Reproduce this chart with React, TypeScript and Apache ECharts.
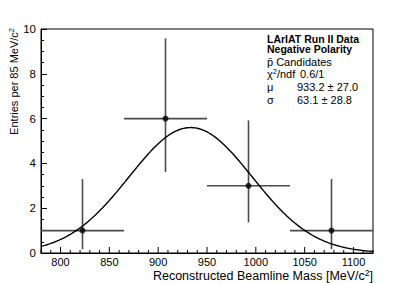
import React, { useEffect, useRef } from "react";
import * as echarts from "echarts";

// ---- Data ----
const BIN_CENTERS = [822.5, 907.5, 992.5, 1077.5];
const BIN_HALF_WIDTH = 42.5;
const COUNTS = [1, 6, 3, 1];
const ERR_LOW = [0.83, 2.38, 1.63, 0.83];
const ERR_HIGH = [2.3, 3.58, 2.92, 2.3];

const X_TICK_LABELS = [800, 850, 900, 950, 1000, 1050, 1100];
const X_MIN = 780;
const X_MAX = 1120;
const X_MINOR_STEP = 10;
const Y_MIN = 0;
const Y_MAX = 10;

// Gaussian fit parameters (from the stats box)
const FIT_MU = 933.2;
const FIT_SIGMA = 63.1;
const FIT_AMP = 5.6;

const FONT = "'Liberation Sans', Arial, Helvetica, sans-serif";

export default function App() {
  const ref = useRef<HTMLDivElement>(null);

  useEffect(() => {
    if (!ref.current) return;
    const chart = echarts.init(ref.current, null, { renderer: "svg" });

    const fitCurve: number[][] = [];
    for (let x = X_MIN; x <= X_MAX; x += 2) {
      fitCurve.push([x, FIT_AMP * Math.exp(-((x - FIT_MU) ** 2) / (2 * FIT_SIGMA ** 2))]);
    }

    const xTickValues: number[][] = [];
    for (let v = X_MIN; v <= X_MAX; v += X_MINOR_STEP) {
      xTickValues.push([v, X_TICK_LABELS.includes(v) ? 1 : 0]);
    }

    const errData = BIN_CENTERS.map((c, i) => [
      c,
      COUNTS[i],
      COUNTS[i] - ERR_LOW[i],
      COUNTS[i] + ERR_HIGH[i],
      c - BIN_HALF_WIDTH,
      c + BIN_HALF_WIDTH,
    ]);

    const barStyle = { stroke: "#4a4a4a", lineWidth: 1.6 };
    const black = { color: "#000", width: 1 };

    chart.setOption({
      animation: false,
      backgroundColor: "#fff",
      grid: {
        left: 41,
        right: 42,
        top: 29,
        bottom: 30,
        show: true,
        borderColor: "#000",
        borderWidth: 1,
        containLabel: false,
      },
      xAxis: {
        type: "value",
        min: X_MIN,
        max: X_MAX,
        position: "bottom",
        axisLine: { show: true, lineStyle: black },
        axisTick: { show: false },
        axisLabel: {
          show: true,
          customValues: X_TICK_LABELS,
          formatter: (v: number) => String(v),
          color: "#000",
          fontSize: 11,
          fontFamily: FONT,
          margin: 3,
        },
        splitLine: { show: false },
      },
      yAxis: [
        {
          type: "value",
          min: Y_MIN,
          max: Y_MAX,
          interval: 2,
          axisLine: { show: true, lineStyle: black },
          axisTick: { show: true, inside: true, length: 6, lineStyle: black },
          axisLabel: { color: "#000", fontSize: 11.5, fontFamily: FONT, margin: 5 },
          splitLine: { show: false },
        },
        {
          type: "value",
          min: Y_MIN,
          max: Y_MAX,
          interval: 0.5,
          position: "left",
          offset: 0,
          axisLine: { show: true, onZero: false, lineStyle: black },
          axisTick: { show: true, inside: true, length: 3, lineStyle: black },
          axisLabel: { show: false },
          splitLine: { show: false },
        },
      ],
      series: [
        {
          type: "custom",
          xAxisIndex: 0,
          yAxisIndex: 0,
          data: xTickValues,
          silent: true,
          clip: false,
          renderItem: (params: any, api: any) => {
            const p = api.coord([api.value(0), Y_MIN]);
            const len = api.value(1) ? 6 : 3;
            return {
              type: "line",
              shape: { x1: p[0], y1: p[1], x2: p[0], y2: p[1] - len },
              style: { stroke: "#000", lineWidth: 1 },
            };
          },
          z: 1,
        },
        {
          type: "custom",
          xAxisIndex: 0,
          yAxisIndex: 0,
          data: errData,
          renderItem: (params: any, api: any) => {
            const x = api.value(0);
            const y = api.value(1);
            const pLo = api.coord([x, api.value(2)]);
            const pHi = api.coord([x, api.value(3)]);
            const pL = api.coord([api.value(4), y]);
            const pR = api.coord([api.value(5), y]);
            return {
              type: "group",
              children: [
                { type: "line", shape: { x1: pLo[0], y1: pLo[1], x2: pHi[0], y2: pHi[1] }, style: barStyle },
                { type: "line", shape: { x1: pL[0], y1: pL[1], x2: pR[0], y2: pR[1] }, style: barStyle },
              ],
            };
          },
          z: 2,
        },
        {
          type: "line",
          xAxisIndex: 0,
          yAxisIndex: 0,
          data: fitCurve,
          showSymbol: false,
          smooth: false,
          lineStyle: { color: "#000", width: 1.4 },
          z: 3,
        },
        {
          type: "scatter",
          xAxisIndex: 0,
          yAxisIndex: 0,
          data: BIN_CENTERS.map((c, i) => [c, COUNTS[i]]),
          symbol: "circle",
          symbolSize: 6,
          itemStyle: { color: "#000" },
          z: 4,
        },
      ],
      graphic: [
        {
          type: "text",
          x: 14,
          y: 28,
          rotation: Math.PI / 2,
          style: {
            text: "Entries per 85 MeV/c{sup|2}",
            font: `11px ${FONT}`,
            fill: "#000",
            align: "right",
            verticalAlign: "middle",
            rich: { sup: { fontSize: 7.5, verticalAlign: "top", padding: [0, 0, 6, 0], fontFamily: FONT } },
          },
        },
        {
          type: "text",
          x: 373,
          y: 283,
          style: {
            text: "Reconstructed Beamline Mass [MeV/c{sup|2}]",
            font: `12.5px ${FONT}`,
            fill: "#000",
            align: "right",
            verticalAlign: "bottom",
            rich: { sup: { fontSize: 8.5, verticalAlign: "top", padding: [0, 0, 6, 0], fontFamily: FONT } },
          },
        },
        {
          type: "text",
          x: 267,
          y: 33.5,
          style: {
            text: "LArIAT Run II Data\nNegative Polarity",
            font: `bold 10.5px ${FONT}`,
            lineHeight: 10,
            fill: "#000",
            verticalAlign: "top",
          },
        },
        {
          type: "text",
          x: 267,
          y: 62,
          style: { text: "p\u0304 Candidates", font: `11px ${FONT}`, fill: "#000", verticalAlign: "middle" },
        },
        {
          type: "text",
          x: 267,
          y: 73.5,
          style: {
            text: "\u03c7{sup|2}/ndf",
            font: `11px ${FONT}`,
            fill: "#000",
            verticalAlign: "middle",
            rich: { sup: { fontSize: 7.5, verticalAlign: "top", padding: [0, 0, 4, 0], fontFamily: FONT } },
          },
        },
        {
          type: "text",
          x: 300,
          y: 73.5,
          style: { text: "0.6/1", font: `11px ${FONT}`, fill: "#000", verticalAlign: "middle" },
        },
        {
          type: "text",
          x: 267,
          y: 87,
          style: { text: "\u03bc", font: `11px ${FONT}`, fill: "#000", verticalAlign: "middle" },
        },
        {
          type: "text",
          x: 297,
          y: 87,
          style: { text: "933.2 \u00b1 27.0", font: `11px ${FONT}`, fill: "#000", verticalAlign: "middle" },
        },
        {
          type: "text",
          x: 267,
          y: 99.5,
          style: { text: "\u03c3", font: `11px ${FONT}`, fill: "#000", verticalAlign: "middle" },
        },
        {
          type: "text",
          x: 297,
          y: 99.5,
          style: { text: "63.1 \u00b1 28.8", font: `11px ${FONT}`, fill: "#000", verticalAlign: "middle" },
        },
      ],
    });

    return () => chart.dispose();
  }, []);

  return (
    <div
      ref={ref}
      style={{ position: "fixed", left: 0, top: 0, width: 415, height: 283, background: "#fff" }}
    />
  );
}
